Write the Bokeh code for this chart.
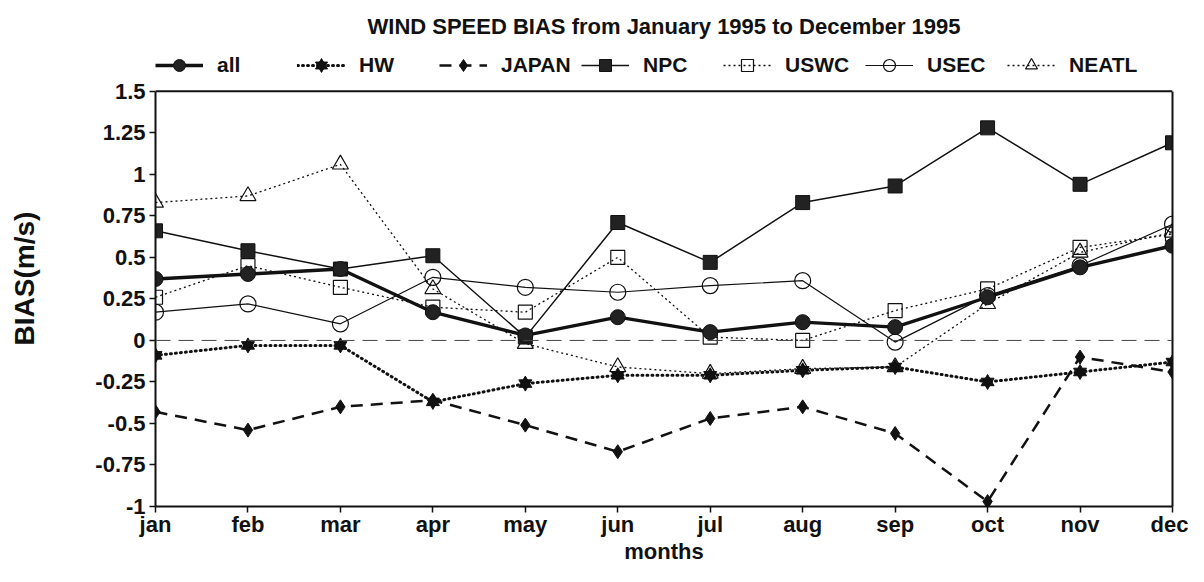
from bokeh.plotting import figure
from bokeh.models import Range1d, FixedTicker, Span, Legend, LegendItem, LinearAxis
from bokeh.embed import file_html
from bokeh.resources import INLINE

months = ["jan", "feb", "mar", "apr", "may", "jun", "jul", "aug", "sep", "oct", "nov", "dec"]
month_idx = list(range(len(months)))

all_bias = [0.37, 0.40, 0.43, 0.17, 0.03, 0.14, 0.05, 0.11, 0.08, 0.26, 0.44, 0.57]
hw_bias = [-0.09, -0.03, -0.03, -0.37, -0.26, -0.21, -0.21, -0.18, -0.16, -0.25, -0.19, -0.13]
japan_bias = [-0.43, -0.54, -0.40, -0.36, -0.51, -0.67, -0.47, -0.40, -0.56, -0.97, -0.10, -0.19]
npc_bias = [0.66, 0.54, 0.43, 0.51, 0.02, 0.71, 0.47, 0.83, 0.93, 1.28, 0.94, 1.19]
uswc_bias = [0.26, 0.45, 0.32, 0.20, 0.17, 0.50, 0.02, 0.00, 0.18, 0.31, 0.56, 0.64]
usec_bias = [0.17, 0.22, 0.10, 0.38, 0.32, 0.29, 0.33, 0.36, -0.01, 0.27, 0.45, 0.70]
neatl_bias = [0.83, 0.87, 1.06, 0.31, -0.02, -0.16, -0.20, -0.17, -0.16, 0.22, 0.53, 0.65]

y_ticks = [-1, -0.75, -0.5, -0.25, 0, 0.25, 0.5, 0.75, 1, 1.25, 1.5]
y_tick_labels = ["-1", "-0.75", "-0.5", "-0.25", "0", "0.25", "0.5", "0.75", "1", "1.25", "1.5"]
y_min, y_max = -1, 1.5

FONT = "Liberation Sans"
INK = "#111111"

# layout (pixels)
W, H = 1188, 566
B_LEFT, B_RIGHT, B_TOP, B_BOTTOM = 155, 16, 50, 58
LEGEND_ROOM = 41                      # room above the 1.5 line for the legend
frame_h = H - B_TOP - B_BOTTOM
px_per_unit = (frame_h - LEGEND_ROOM) / (y_max - y_min)
y_top = y_max + LEGEND_ROOM / px_per_unit

p = figure(width=W, height=H,
           min_border_left=B_LEFT, min_border_right=B_RIGHT,
           min_border_top=B_TOP, min_border_bottom=B_BOTTOM,
           x_range=Range1d(0, 11), y_range=Range1d(y_min, y_top),
           output_backend="svg", toolbar_location=None,
           title="WIND SPEED BIAS from January 1995 to December 1995")

p.title.align = "center"
p.title.text_font = FONT
p.title.text_font_size = "22px"
p.title.text_font_style = "bold"
p.title.text_color = INK
p.title.standoff = 23

p.grid.visible = False
p.outline_line_color = None
p.background_fill_color = "white"
p.border_fill_color = "white"

p.xaxis.ticker = FixedTicker(ticks=month_idx)
p.xaxis.major_label_overrides = {i: m for i, m in zip(month_idx, months)}
p.yaxis.ticker = FixedTicker(ticks=y_ticks)
p.yaxis.major_label_overrides = {t: l for t, l in zip(y_ticks, y_tick_labels)}
p.yaxis.bounds = (y_min, y_max)

for ax in (p.xaxis, p.yaxis):
    ax.axis_line_width = 2
    ax.axis_line_color = INK
    ax.major_tick_line_color = INK
    ax.major_tick_line_width = 1.5
    ax.major_tick_in = 0
    ax.major_tick_out = 6
    ax.minor_tick_line_color = None
    ax.major_label_text_font = FONT
    ax.major_label_text_font_size = "22px"
    ax.major_label_text_font_style = "bold"
    ax.major_label_text_color = INK
    ax.axis_label_text_font = FONT
    ax.axis_label_text_font_style = "bold"
    ax.axis_label_text_color = INK

p.xaxis.major_label_standoff = -1
p.xaxis.axis_label = "months"
p.xaxis.axis_label_text_font_size = "22px"
p.xaxis.axis_label_standoff = -1
p.yaxis.major_label_standoff = 4
p.yaxis.axis_label = "BIAS(m/s)"
p.yaxis.axis_label_text_font_size = "28px"
p.yaxis.axis_label_standoff = 52

# right border and top border of the plotting box
right_ax = LinearAxis(ticker=FixedTicker(ticks=[]), bounds=(y_min, y_max),
                      axis_line_width=2, axis_line_color=INK,
                      major_tick_line_color=None, minor_tick_line_color=None,
                      major_label_text_font_size="0px")
p.add_layout(right_ax, "right")
p.add_layout(Span(location=y_max, dimension="width", line_color=INK, line_width=2))

p.add_layout(Span(location=0, dimension="width", line_color="#444444",
                  line_width=1, line_dash="15 8"))

# NEATL
l_ne = p.line(month_idx, neatl_bias, line_color=INK, line_width=1.3, line_dash="2 3")
m_ne = p.scatter(month_idx, neatl_bias, marker="triangle", size=16, fill_color=None,
                 line_color=INK, line_width=1.2)
# USWC
l_uw = p.line(month_idx, uswc_bias, line_color=INK, line_width=1.3, line_dash="2 3")
m_uw = p.scatter(month_idx, uswc_bias, marker="square", size=14, fill_color=None,
                 line_color=INK, line_width=1.2)
# USEC
l_ue = p.line(month_idx, usec_bias, line_color=INK, line_width=1.2)
m_ue = p.scatter(month_idx, usec_bias, marker="circle", size=16, fill_color=None,
                 line_color=INK, line_width=1.2)
# JAPAN
l_jp = p.line(month_idx, japan_bias, line_color=INK, line_width=2.5, line_dash="12 8")
m_jp = p.scatter(month_idx, japan_bias, marker="diamond", size=14, fill_color=INK,
                 line_color=INK)
# HW
l_hw = p.line(month_idx, hw_bias, line_color=INK, line_width=3, line_dash="1 4",
              line_cap="round")
m_hw1 = p.scatter(month_idx, hw_bias, marker="triangle", size=13, fill_color=INK, line_color=INK)
m_hw2 = p.scatter(month_idx, hw_bias, marker="inverted_triangle", size=13, fill_color=INK,
                  line_color=INK)
# NPC
l_np = p.line(month_idx, npc_bias, line_color=INK, line_width=1.5)
m_np = p.scatter(month_idx, npc_bias, marker="square", size=14, fill_color="#222222",
                 line_color=INK)
# all
l_al = p.line(month_idx, all_bias, line_color=INK, line_width=3.4)
m_al = p.scatter(month_idx, all_bias, marker="circle", size=15, fill_color="#222222",
                 line_color=INK)

legend = Legend(items=[
    LegendItem(label="all", renderers=[l_al, m_al]),
    LegendItem(label="HW", renderers=[l_hw, m_hw1, m_hw2]),
    LegendItem(label="JAPAN", renderers=[l_jp, m_jp]),
    LegendItem(label="NPC", renderers=[l_np, m_np]),
    LegendItem(label="USWC", renderers=[l_uw, m_uw]),
    LegendItem(label="USEC", renderers=[l_ue, m_ue]),
    LegendItem(label="NEATL", renderers=[l_ne, m_ne]),
], orientation="horizontal", location="top_left",
    glyph_width=48, glyph_height=30, label_height=30, label_standoff=14, spacing=8,
    label_width=72,
    label_text_font=FONT, label_text_font_size="21px", label_text_font_style="bold",
    label_text_color=INK, border_line_color=None, background_fill_alpha=0,
    padding=4, margin=0)
p.add_layout(legend, "center")

open("out.html", "w").write(file_html(p, INLINE))
